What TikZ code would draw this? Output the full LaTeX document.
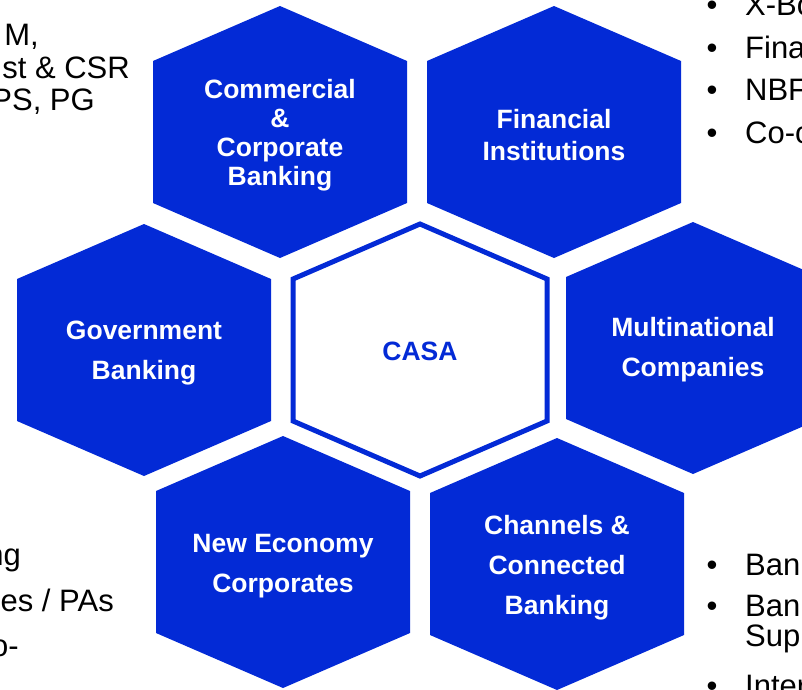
\documentclass[tikz,border=0pt]{standalone}
\usepackage{fontspec}
\setmainfont{Liberation Sans}
\definecolor{casaBlue}{HTML}{032AD6}

\tikzset{
  hexcell/.pic={\path[pic actions] (-127,-71) -- (0,-126) -- (127,-71) -- (127,71) -- (0,126) -- (-127,71) -- cycle;},
  hexlabel/.style={text=white,align=center,font=\fontsize{26.5}{40}\selectfont\bfseries},
  sidetext/.style={inner sep=0pt,font=\fontsize{31}{36}\selectfont},
  bulletitem/.style={sidetext,anchor=base west}
}
\newcommand{\bul}{\makebox[38.5pt][l]{\textbullet}}

\begin{document}
\begin{tikzpicture}[x=1pt,y=-1pt]
\useasboundingbox (0,0) rectangle (802,689);
\clip (0,0) rectangle (802,689);
% outer ring of segments
\pic[fill=casaBlue] at (280,132) {hexcell};
\pic[fill=casaBlue] at (554,132) {hexcell};
\pic[fill=casaBlue] at (144,350) {hexcell};
\pic[fill=casaBlue] at (693,348) {hexcell};
\pic[fill=casaBlue] at (283,562) {hexcell};
\pic[fill=casaBlue] at (557,564) {hexcell};
% centre
\pic[draw=casaBlue,fill=white,line width=5pt] at (420,350) {hexcell};
\node[hexlabel,font=\fontsize{26.5}{29}\selectfont\bfseries] (commercial) at (280,135) {Commercial\\\&\\Corporate\\Banking};
\node[hexlabel,font=\fontsize{26.5}{32}\selectfont\bfseries] (financial) at (554,135) {Financial\\Institutions};
\node[hexlabel] (government) at (144,353) {Government\\Banking};
\node[hexlabel] (multinational) at (693,350) {Multinational\\Companies};
\node[hexlabel] (neweconomy) at (283,566) {New Economy\\Corporates};
\node[hexlabel] (channels) at (557,568) {Channels \&\\Connected\\Banking};
\node[hexlabel,text=casaBlue] (casa) at (420,351) {CASA};
% cut-off side notes
\node[sidetext,anchor=base east] (tl1) at (39,45) {M,};
\node[sidetext,anchor=base east] (tl2) at (130,78) {st \& CSR};
\node[sidetext,anchor=base east] (tl3) at (95,110) {PS, PG};
\node[bulletitem] (tr1) at (706.5,15) {\bul X-Bo};
\node[bulletitem] (tr2) at (706.5,58) {\bul Fina};
\node[bulletitem] (tr3) at (706.5,100) {\bul NBF};
\node[bulletitem] (tr4) at (706.5,143) {\bul Co-o};
\node[sidetext,anchor=base east] (bl1) at (21,565) {ng};
\node[sidetext,anchor=base east] (bl2) at (114,611) {es / PAs};
\node[sidetext,anchor=base east] (bl3) at (19,656) {o-};
\node[bulletitem] (br1) at (706.5,575) {\bul Ban};
\node[bulletitem] (br2) at (706.5,616) {\bul Ban};
\node[sidetext,anchor=base west] (br2b) at (745,646) {Sup};
\node[bulletitem] (br3) at (706.5,696) {\bul Inter};
\end{tikzpicture}
\end{document}
